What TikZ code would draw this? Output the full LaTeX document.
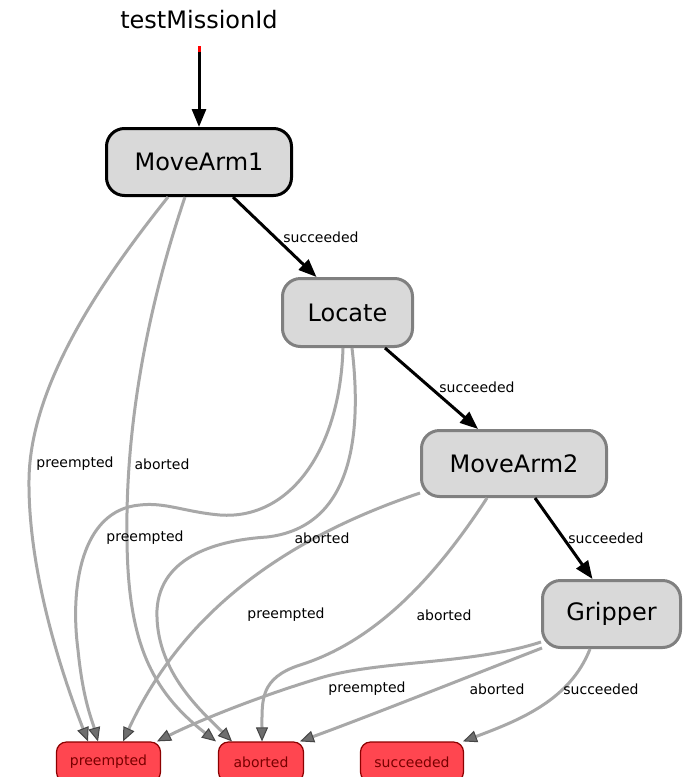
\documentclass[tikz,border=0pt]{standalone}
\usepackage{fontspec}
\setmainfont{DejaVu Sans}
\usetikzlibrary{arrows.meta,calc}
\definecolor{statefill}{RGB}{217,217,217}
\definecolor{stateline}{RGB}{128,128,128}
\definecolor{outfill}{RGB}{255,70,80}
\definecolor{outborder}{RGB}{140,0,0}
\definecolor{outtext}{RGB}{120,0,0}
\definecolor{failline}{RGB}{168,168,168}
\definecolor{failtip}{RGB}{110,110,110}
\definecolor{failtipline}{RGB}{70,70,70}
\begin{document}
\begin{tikzpicture}[x=1pt,y=-1pt,
  state/.style={rectangle, rounded corners=18pt, fill=statefill, draw=stateline,
    line width=3pt, font=\fontsize{24}{28}\selectfont, inner sep=0pt},
  outcome/.style={rectangle, rounded corners=10pt, fill=outfill, draw=outborder,
    line width=1.2pt, text=outtext, font=\fontsize{14}{16}\selectfont,
    inner sep=0pt, minimum height=40pt},
  lbl/.style={font=\fontsize{14}{16}\selectfont, inner sep=0pt},
  flow/.style={draw=black, line width=3pt, -{Triangle[length=18pt,width=14pt]}},
  fail/.style={draw=failline, line width=3pt,
    -{Triangle[length=14pt,width=12pt,line width=1pt,fill=failtip,color=failtipline]}}]
\clip (0,0) rectangle (683,777);
\fill[white] (0,0) rectangle (683,777);

% states
\node[font=\fontsize{24}{28}\selectfont, inner sep=0pt] (mission) at (199,20) {testMissionId};
\node[state, draw=black, minimum width=185pt, minimum height=67pt] (arm1) at (199,162) {MoveArm1};
\node[state, minimum width=130pt, minimum height=68pt] (locate) at (347.5,312.5) {Locate};
\node[state, minimum width=185pt, minimum height=66pt] (arm2) at (514,463.5) {MoveArm2};
\node[state, minimum width=138pt, minimum height=67pt] (grip) at (611.5,614) {Gripper};

% outcomes
\node[outcome, minimum width=104pt] (opre) at (108.5,762) {preempted};
\node[outcome, minimum width=85pt] (oabo) at (261,762) {aborted};
\node[outcome, minimum width=103pt] (osuc) at (412,762) {succeeded};

% entry
\coordinate (tick) at (199,46);
\coordinate (entry) at (199,52);
\draw[red, line width=3pt] (tick) -- (entry);
\draw[flow] (entry) -- (arm1.north);

% success transitions
\draw[flow] ($(arm1.south)+(34,0)$) -- ($(locate.north)+(-31,0)$);
\draw[flow] ($(locate.south)+(37.5,0)$) -- ($(arm2.north)+(-36,0)$);
\draw[flow] ($(arm2.south)+(21,0)$) -- ($(grip.north)+(-19,0)$);

% MoveArm1 failures
\draw[fail] ($(arm1.south)+(-31,0)$) .. controls (110,270) and (30,380) .. (29,480)
  .. controls (28,580) and (68,690) .. ($(opre.north)+(-20.5,0)$);
\draw[fail] ($(arm1.south)+(-14,0)$) .. controls (150,300) and (125,420) .. (127,540)
  .. controls (128,640) and (150,690) .. ($(oabo.north)+(-45,0)$);

% Locate failures
\draw[fail] ($(locate.south)+(-4.5,0)$) .. controls (340,450) and (290,520) .. (220,515)
  .. controls (185,512) and (165,502) .. (140,505)
  .. controls (80,510) and (70,590) .. (78,650)
  .. controls (83,700) and (92,720) .. ($(opre.north)+(-10.5,0)$);
\draw[fail] ($(locate.south)+(4.5,0)$) .. controls (364,450) and (345,528) .. (267,537)
  .. controls (220,540) and (160,555) .. (157,610)
  .. controls (155,670) and (200,710) .. ($(oabo.north)+(-29,0)$);

% MoveArm2 failures
\draw[fail] ($(arm2.west)+(0,29.5)$) .. controls (250,550) and (170,640) .. ($(opre.north)+(14.5,0)$);
\draw[fail] ($(arm2.south)+(-27,0)$) .. controls (440,570) and (380,640) .. (300,665)
  .. controls (260,678) and (262,700) .. ($(oabo.north)+(1,0)$);

% Gripper transitions
\draw[fail] ($(grip.west)+(0,28)$) .. controls (470,665) and (380,660) .. (320,678)
  .. controls (260,696) and (200,720) .. ($(opre.north)+(48.5,0)$);
\draw[fail] ($(grip.west)+(1,34)$) .. controls (480,672) and (380,712) .. ($(oabo.north)+(39,0)$);
\draw[fail] ($(grip.south)+(-21.5,0)$) .. controls (570,700) and (520,720) .. ($(osuc.north)+(51,0)$);

% transition labels
\node[lbl] (s1) at (321,237) {succeeded};
\node[lbl] (s2) at (477,387) {succeeded};
\node[lbl] (s3) at (606,538) {succeeded};
\node[lbl] (p1) at (75,464) {preempted};
\node[lbl] (a1) at (162,464) {aborted};
\node[lbl] (p2) at (145,538) {preempted};
\node[lbl] (a2) at (322,538) {aborted};
\node[lbl] (p3) at (286,615) {preempted};
\node[lbl] (a3) at (444,615) {aborted};
\node[lbl] (p4) at (367,689) {preempted};
\node[lbl] (a4) at (497,689) {aborted};
\node[lbl] (s4) at (601,689) {succeeded};
\end{tikzpicture}
\end{document}
